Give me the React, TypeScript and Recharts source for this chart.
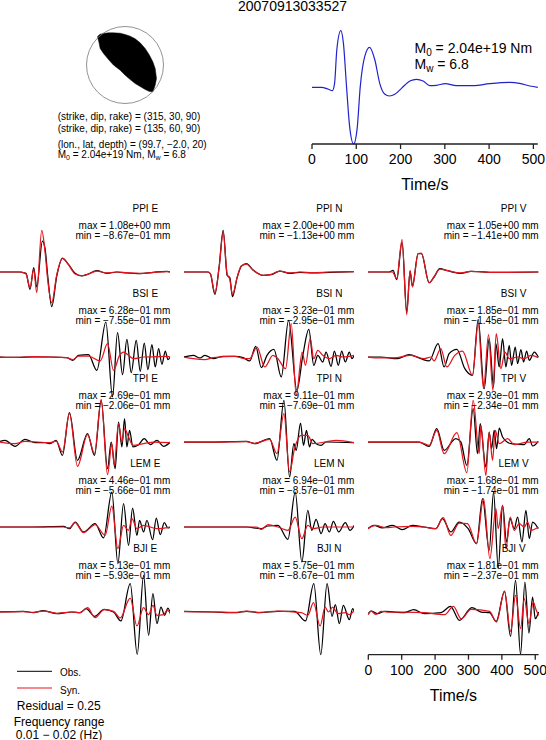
import { ComposedChart, LineChart, Line, Area, XAxis, YAxis, ReferenceDot } from "recharts";

type Trace = number[][];

// each trace is [time in s, relative amplitude]
const ppiEObs: Trace = [[0,0],[60,0],[70,-2],[78,-4],[90,-52],[101,13],[110,-45],[127,93],[135,70],[143,-12],[155,-104],[170,-12],[187,41],[205,23],[225,-4],[245,-12],[262,-7],[290,4],[320,-4],[350,0],[380,-3],[420,-5],[460,-1],[500,2],[510,0]];
const ppiESyn: Trace = [[0,0],[60,0],[70,-2],[78,-6],[90,-47],[101,8],[110,-62],[125,125],[135,60],[143,-25],[155,-92],[170,-8],[187,42],[205,22],[225,-6],[245,-11],[262,-7],[290,3],[320,-3],[350,0],[380,-2],[420,-4],[460,-1],[500,1],[510,0]];
const ppiNObs: Trace = [[0,0],[73,0],[80,-7],[93,-67],[106,18],[118,125],[130,-10],[138,-17],[146,-74],[160,-17],[173,18],[188,25],[208,6],[238,-10],[263,-8],[288,3],[318,-4],[348,-1],[388,-3],[438,-1],[513,1]];
const ppiNSyn: Trace = [[0,0],[73,0],[80,-6],[93,-62],[106,14],[118,118],[130,-6],[138,-22],[146,-68],[160,-16],[173,18],[188,24],[208,6],[238,-10],[263,-7],[288,3],[318,-3],[348,0],[388,-2],[438,0],[513,1]];
const ppiVObs: Trace = [[0,0],[63,0],[75,5],[86,-23],[102,90],[116,-120],[126,2],[133,-42],[150,55],[160,55],[183,-32],[198,-15],[215,10],[238,4],[278,-4],[308,2],[378,-1],[510,0]];
const ppiVSyn: Trace = [[0,0],[73,0],[86,-20],[102,97],[116,-128],[126,5],[133,-45],[150,55],[160,57],[183,-33],[198,-14],[215,9],[238,4],[278,-3],[308,2],[378,-1],[510,0]];
const bsiEObs: Trace = [[0,0],[50,-1],[100,0],[150,0],[200,-2],[218,-10],[235,5],[265,7],[290,-40],[317,105],[337,-120],[352,73],[367,-53],[380,53],[393,-47],[408,50],[420,-43],[432,42],[443,-38],[455,37],[465,-30],[475,25],[485,-22],[495,18],[503,-8],[510,0]];
const bsiESyn: Trace = [[0,0],[50,-1],[100,1],[150,0],[200,-2],[218,-8],[235,3],[265,3],[300,-12],[322,40],[340,-40],[358,5],[370,15],[385,5],[400,-5],[430,0],[470,1],[500,2],[510,0]];
const bsiNObs: Trace = [[0,0],[28,5],[48,-3],[63,5],[88,-5],[118,2],[153,2],[178,-2],[198,-12],[216,32],[233,-32],[250,5],[271,23],[293,-60],[315,110],[340,-100],[358,5],[376,83],[391,-25],[403,5],[418,-15],[428,15],[443,-28],[453,18],[465,-25],[475,18],[486,-15],[498,15],[506,-5],[513,5]];
const bsiNSyn: Trace = [[0,0],[28,-5],[63,-8],[88,-2],[153,2],[183,-5],[198,-5],[220,30],[243,-30],[268,5],[283,-5],[306,-35],[323,100],[338,-115],[356,15],[366,-25],[380,55],[391,-5],[403,20],[418,5],[438,-5],[458,5],[478,0],[513,5]];
const bsiVObs: Trace = [[0,0],[38,0],[88,-5],[123,7],[158,-5],[183,-12],[210,40],[228,-30],[243,10],[266,23],[290,-35],[313,-55],[330,113],[348,-95],[363,55],[376,-90],[383,40],[393,-30],[403,55],[413,-30],[423,35],[430,-25],[441,30],[448,-20],[458,22],[466,-15],[475,18],[483,-10],[498,15],[510,0]];
const bsiVSyn: Trace = [[0,0],[38,-3],[78,-3],[128,5],[168,-5],[188,0],[198,-12],[218,25],[236,-30],[260,5],[283,18],[313,-55],[330,100],[346,-95],[361,67],[374,-100],[384,70],[398,-35],[410,15],[423,-5],[448,0],[468,-5],[488,5],[510,-2]];
const tpiEObs: Trace = [[0,2],[15,5],[45,-13],[75,8],[105,-2],[135,-2],[150,-5],[168,5],[187,-40],[208,88],[232,-55],[262,25],[283,-40],[303,125],[322,-80],[333,0],[345,-80],[355,60],[365,-15],[373,70],[380,-15],[388,35],[398,-15],[415,-8],[432,10],[450,-8],[470,5],[490,-13],[510,0]];
const tpiESyn: Trace = [[0,0],[45,-5],[75,2],[150,-2],[168,3],[187,-30],[208,85],[232,-73],[262,22],[283,-35],[303,128],[322,-98],[335,-5],[342,-70],[355,55],[365,0],[373,40],[385,15],[398,-10],[430,-5],[460,0],[510,-2]];
const tpiNObs: Trace = [[0,0],[88,0],[188,2],[213,-5],[258,10],[280,-55],[301,125],[318,-105],[331,-5],[338,-25],[351,57],[360,-10],[369,35],[378,-15],[386,8],[398,-5],[413,-10],[428,0],[513,-2]];
const tpiNSyn: Trace = [[0,0],[88,0],[188,1],[213,-4],[258,8],[280,-35],[301,85],[318,-90],[333,-20],[353,20],[373,20],[388,-5],[458,5],[513,-2]];
const tpiVObs: Trace = [[0,0],[108,0],[153,0],[183,-13],[206,40],[228,-25],[263,10],[278,0],[296,-70],[315,100],[328,-35],[336,55],[353,-75],[363,30],[370,-20],[378,35],[385,-20],[393,42],[403,15],[428,-5],[468,-8],[483,10],[493,-12],[510,2]];
const tpiVSyn: Trace = [[0,0],[108,0],[153,0],[183,-10],[206,35],[228,-35],[266,28],[296,-92],[315,125],[333,-35],[338,50],[353,-100],[363,30],[373,-55],[381,35],[393,-5],[418,10],[438,-8],[478,0],[510,0]];
const lemEObs: Trace = [[0,0],[100,0],[190,2],[208,-5],[225,15],[250,-15],[285,10],[310,-33],[335,105],[353,-110],[370,70],[385,-55],[397,57],[410,-25],[418,20],[430,-15],[440,20],[457,-38],[468,27],[480,-23],[492,13],[503,-3],[510,0]];
const lemESyn: Trace = [[0,0],[100,0],[190,0],[208,-3],[225,13],[250,-17],[285,7],[315,-25],[335,63],[353,-65],[370,5],[385,-10],[395,25],[410,-5],[430,5],[470,-5],[510,0]];
const lemNObs: Trace = [[0,0],[188,0],[233,-5],[253,3],[283,5],[313,-37],[335,105],[355,-105],[373,50],[385,-10],[398,23],[413,-20],[425,10],[438,-15],[450,17],[466,-15],[486,13],[500,-10],[513,5]];
const lemNSyn: Trace = [[0,0],[218,0],[233,-7],[253,7],[283,0],[313,-10],[335,30],[355,-35],[373,5],[388,-5],[418,0],[513,0]];
const lemVObs: Trace = [[0,-5],[18,5],[43,-3],[73,5],[103,-8],[133,5],[168,0],[203,-5],[223,25],[248,-15],[273,15],[300,-5],[325,-50],[343,85],[363,-70],[376,105],[390,-123],[403,65],[415,-45],[425,25],[438,-5],[448,30],[461,-45],[473,50],[483,-35],[493,15],[510,-5]];
const lemVSyn: Trace = [[0,-5],[23,5],[53,-2],[78,0],[133,2],[168,0],[203,-5],[225,28],[248,-25],[273,12],[298,10],[325,-50],[346,85],[365,-95],[383,55],[390,-5],[403,65],[413,-65],[426,30],[438,-10],[453,10],[468,0],[478,15],[488,-10],[510,0]];
const bjiEObs: Trace = [[0,0],[70,2],[100,-2],[130,4],[170,-5],[215,0],[240,-2],[258,10],[283,-13],[312,8],[340,0],[362,-27],[390,85],[411,-127],[430,110],[445,-70],[458,55],[470,-35],[482,15],[493,-10],[503,12],[510,-5]];
const bjiESyn: Trace = [[0,0],[70,1],[100,-1],[130,3],[170,-4],[215,0],[240,-2],[262,13],[285,-17],[312,7],[340,2],[360,-18],[390,42],[410,-42],[430,13],[445,-8],[458,20],[470,-10],[490,-8],[500,5],[510,-2]];
const bjiNObs: Trace = [[0,2],[88,0],[158,-2],[188,2],[228,-2],[283,2],[333,2],[366,-27],[391,85],[412,-128],[431,85],[446,-13],[456,22],[468,-35],[480,20],[498,-23],[508,10],[513,0]];
const bjiNSyn: Trace = [[0,1],[88,0],[158,-1],[188,3],[228,-1],[283,3],[353,-2],[373,-10],[390,28],[410,-42],[425,15],[435,0],[448,15],[463,-5],[488,-2],[498,-8],[513,5]];
const bjiVObs: Trace = [[0,-5],[8,3],[28,-5],[48,2],[78,0],[108,-2],[136,7],[168,-5],[218,-2],[246,17],[273,-25],[310,13],[338,0],[363,-2],[383,-28],[408,62],[426,-73],[441,95],[456,-127],[469,90],[481,-63],[492,45],[500,-20],[510,0]];
const bjiVSyn: Trace = [[0,-8],[8,3],[23,-7],[38,2],[58,0],[108,0],[168,-2],[228,-8],[255,17],[278,-20],[308,8],[363,2],[384,-30],[408,63],[426,-58],[441,50],[456,-50],[467,40],[481,-35],[494,30],[503,5],[510,-10]];
const stfTrace: Trace = [[0,0],[21,0],[36,-5],[46,-10],[51,12],[56,112],[65,170],[71,132],[78,2],[85,-118],[94,-170],[102,-123],[109,2],[119,92],[130,120],[142,82],[153,12],[164,-20],[175,-26],[187,-21],[202,-3],[221,19],[236,24],[251,19],[266,5],[281,6],[301,11],[326,5],[364,5],[401,11],[447,15],[469,12],[492,4],[510,0]];

// compressional lens of the focal sphere, on the unit circle
const ballX = [-0.714, -0.68, -0.645, -0.558, -0.429, -0.30, -0.126, 0.004, 0.134, 0.264, 0.394, 0.524, 0.636, 0.723, 0.784, 0.818];
const ballLower = [0.732, 0.602, 0.429, 0.299, 0.143, 0.0, -0.134, -0.264, -0.377, -0.481, -0.56, -0.636, -0.69, -0.697, -0.524, -0.35];
const ballUpper = [0.732, 0.775, 0.8, 0.818, 0.835, 0.835, 0.826, 0.792, 0.749, 0.68, 0.576, 0.429, 0.255, 0.082, -0.09, -0.35];

const stations = ["PPI", "BSI", "TPI", "LEM", "BJI"];
const components = ["E", "N", "V"];
const observed = [ppiEObs, ppiNObs, ppiVObs, bsiEObs, bsiNObs, bsiVObs, tpiEObs, tpiNObs, tpiVObs, lemEObs, lemNObs, lemVObs, bjiEObs, bjiNObs, bjiVObs];
const synthetic = [ppiESyn, ppiNSyn, ppiVSyn, bsiESyn, bsiNSyn, bsiVSyn, tpiESyn, tpiNSyn, tpiVSyn, lemESyn, lemNSyn, lemVSyn, bjiESyn, bjiNSyn, bjiVSyn];
const maxLabels = ["1.08e+00", "2.00e+00", "1.05e+00", "6.28e−01", "3.23e−01", "1.85e−01", "2.69e−01", "9.11e−01", "2.93e−01", "4.46e−01", "6.94e−01", "1.68e−01", "5.13e−01", "5.75e−01", "1.81e−01"];
const minLabels = ["8.67e−01", "1.13e+00", "1.41e+00", "7.55e−01", "2.95e−01", "1.45e−01", "2.06e−01", "7.69e−01", "2.34e−01", "5.66e−01", "8.57e−01", "1.74e−01", "5.93e−01", "8.67e−01", "2.37e−01"];
const timeTicks = [0, 100, 200, 300, 400, 500];

const FONT = "'Liberation Sans', Arial, sans-serif";
const RED = "#e3141e";
const BLUE = "#2222cc";
const AXIS = "#222";
const colX = [0, 184, 368.3];
const PLOT_W = 170.3;

const toPoints = (trace: Trace) => trace.map(([t, v]) => ({ t, v }));

const timeAxis = (tickFont: number) => (
  <XAxis
    type="number"
    dataKey="t"
    domain={[0, 510]}
    ticks={timeTicks}
    interval={0}
    height={50}
    tickSize={5}
    tickMargin={5}
    stroke={AXIS}
    strokeWidth={1.3}
    tick={{ fontSize: tickFont, fill: "#000", fontFamily: FONT }}
    label={{ value: "Time/s", position: "insideBottom", offset: 4, fontSize: 16, fill: "#000", fontFamily: FONT }}
  />
);

const Panel = ({ row, col }: { row: number; col: number }) => {
  const i = row * 3 + col;
  const baseline = 271.5 + row * 85;
  const withAxis = row === 4 && col === 2;
  const left = withAxis ? 355 : colX[col];
  const marginLeft = withAxis ? 13.3 : 0;
  return (
    <div style={{ position: "absolute", left, top: baseline - 120 }}>
      <LineChart
        width={PLOT_W + marginLeft + (withAxis ? 7.4 : 0)}
        height={withAxis ? 162.7 + 50 : 240}
        margin={{ top: 0, right: withAxis ? 7.4 : 0, bottom: 0, left: marginLeft }}
      >
        {withAxis ? timeAxis(14) : <XAxis hide type="number" dataKey="t" domain={[0, 510]} />}
        <YAxis hide type="number" domain={withAxis ? [-128, 360] : [-360, 360]} />
        <Line data={toPoints(observed[i])} dataKey="v" type="monotone" stroke="#000" strokeWidth={1.25} dot={false} isAnimationActive={false} />
        <Line data={toPoints(synthetic[i])} dataKey="v" type="monotone" stroke={RED} strokeWidth={1.25} dot={false} isAnimationActive={false} />
      </LineChart>
    </div>
  );
};

const Beachball = () => {
  const data = ballX.map((x, i) => ({ x, range: [ballLower[i], ballUpper[i]] }));
  return (
    <div style={{ position: "absolute", left: 84, top: 24 }}>
      <ComposedChart width={82} height={82} data={data} margin={{ top: 0, right: 0, bottom: 0, left: 0 }}>
        <XAxis hide type="number" dataKey="x" domain={[-1.065, 1.065]} />
        <YAxis hide type="number" domain={[-1.065, 1.065]} />
        <Area dataKey="range" type="linear" fill="#000" fillOpacity={1} stroke="#000" strokeWidth={0.5} isAnimationActive={false} />
        <ReferenceDot x={0} y={0} r={38.5} fill="none" stroke="#777" strokeWidth={0.8} />
      </ComposedChart>
    </div>
  );
};

const SourceTimeFunction = () => (
  <div style={{ position: "absolute", left: 300, top: 24 }}>
    <LineChart width={246} height={170} margin={{ top: 0, right: 8.2, bottom: 0, left: 12 }}>
      {timeAxis(14)}
      <YAxis hide type="number" domain={[-170, 190]} />
      <Line data={toPoints(stfTrace)} dataKey="v" type="monotone" stroke={BLUE} strokeWidth={1.2} dot={false} isAnimationActive={false} />
    </LineChart>
  </div>
);

const Labels = () => (
  <svg width={546} height={740} style={{ position: "absolute", left: 0, top: 0 }} fontFamily={FONT} fill="#000">
    <text x={292.5} y={10.5} fontSize={14} textAnchor="middle">20070913033527</text>

    <text x={57.7} y={119.5} fontSize={10}>(strike, dip, rake) = (315, 30, 90)</text>
    <text x={57.7} y={131.5} fontSize={10}>(strike, dip, rake) = (135, 60, 90)</text>
    <text x={57.7} y={147.5} fontSize={10}>(lon., lat, depth) = (99.7, −2.0, 20)</text>
    <text x={57.7} y={158} fontSize={10}>
      M<tspan dy={2} fontSize={7}>0</tspan>
      <tspan dy={-2}> = 2.04e+19 Nm, M</tspan>
      <tspan dy={2} fontSize={7}>w</tspan>
      <tspan dy={-2}> = 6.8</tspan>
    </text>

    <text x={414.5} y={53} fontSize={14}>
      M<tspan dy={3} fontSize={10}>0</tspan>
      <tspan dy={-3}> = 2.04e+19 Nm</tspan>
    </text>
    <text x={414.5} y={68.5} fontSize={14}>
      M<tspan dy={3} fontSize={10}>w</tspan>
      <tspan dy={-3}> = 6.8</tspan>
    </text>

    {stations.map((station, row) =>
      components.map((comp, col) => {
        const i = row * 3 + col;
        const right = colX[col] + PLOT_W;
        return (
          <g key={station + comp} fontSize={10}>
            <text x={colX[col] + 145.3} y={211.7 + row * 85} textAnchor="middle">{station} {comp}</text>
            <text x={right} y={229.3 + row * 85} textAnchor="end">max = {maxLabels[i]} mm</text>
            <text x={right} y={238.5 + row * 85} textAnchor="end">min = −{minLabels[i]} mm</text>
          </g>
        );
      })
    )}

    <line x1={17} x2={52} y1={671.3} y2={671.3} stroke="#000" strokeWidth={1} />
    <line x1={17} x2={52} y1={688} y2={688} stroke={RED} strokeWidth={1} />
    <text x={60} y={675.5} fontSize={10}>Obs.</text>
    <text x={60} y={693.5} fontSize={10}>Syn.</text>
    <text x={58.7} y={710} fontSize={12} textAnchor="middle">Residual = 0.25</text>
    <text x={59} y={726} fontSize={12} textAnchor="middle">Frequency range</text>
    <text x={59} y={738.5} fontSize={12} textAnchor="middle">0.01 − 0.02 (Hz)</text>
  </svg>
);

export default function App() {
  return (
    <div style={{ position: "absolute", left: 0, top: 0, width: 546, height: 740, background: "#fff", overflow: "hidden" }}>
      <Beachball />
      <SourceTimeFunction />
      {stations.map((station, row) =>
        components.map((comp, col) => <Panel key={station + comp} row={row} col={col} />)
      )}
      <Labels />
    </div>
  );
}
